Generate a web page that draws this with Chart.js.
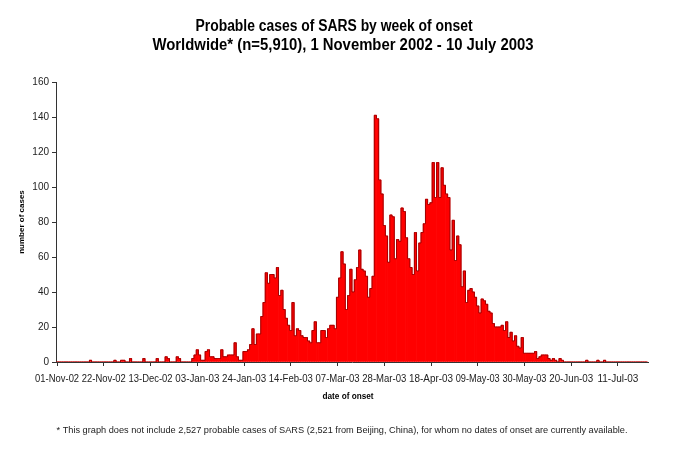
<!DOCTYPE html>
<html>
<head>
<meta charset="utf-8">
<title>Probable cases of SARS by week of onset</title>
<script src="https://cdn.jsdelivr.net/npm/chart.js@4.4.1/dist/chart.umd.min.js"></script>
<style>
  html, body { margin: 0; padding: 0; background: #fff; }
  #wrap { width: 676px; height: 451px; position: relative; }
</style>
</head>
<body>
<div id="wrap"><canvas id="sarsChart"></canvas></div>
<script>
// Data: daily probable cases, 1 Nov 2002 onwards
const startDay = new Date(2002, 10, 1);
const dayCount = 266;
const cases = [
  0,0,0,0,0,0,0,0,0,0,
  0,0,0,0,0,1,0,0,0,0,
  0,0,0,0,0,0,1,0,0,1,
  1,0,0,2,0,0,0,0,0,2,
  0,0,0,0,0,2,0,0,0,3,
  2,0,0,0,3,2,0,0,0,0,
  0,2,4,7,4,1,1,6,7,3,
  3,2,2,2,7,3,3,4,4,4,
  11,3,1,1,6,6,7,10,19,10,
  16,16,26,34,51,45,50,50,48,54,
  38,41,30,25,21,18,34,15,19,18,
  15,14,14,12,11,18,23,11,11,18,
  18,14,19,21,21,19,37,48,63,56,
  30,38,53,40,47,54,64,53,52,49,
  37,42,49,141,139,104,96,78,72,57,
  84,83,59,70,69,88,86,71,59,54,
  50,74,52,68,74,79,93,90,91,114,
  94,114,94,111,101,96,94,64,81,58,
  72,67,43,52,34,41,42,40,37,32,
  28,36,35,33,29,28,22,20,20,20,
  21,18,23,14,17,12,15,9,8,14,
  5,5,5,5,5,6,2,3,4,4,
  4,2,1,2,1,0,2,1,0,0,
  0,0,0,0,0,0,0,0,1,0,
  0,0,0,1,0,0,1,0,0,0,
  0,0,0,0,0,0,0,0,0,0,
  0,0,0,0,0,0
];
const tickLabels = ['01-Nov-02','22-Nov-02','13-Dec-02','03-Jan-03','24-Jan-03','14-Feb-03',
  '07-Mar-03','28-Mar-03','18-Apr-03','09-May-03','30-May-03','20-Jun-03','11-Jul-03'];
const tickEvery = 21;

const titleLines = ['Probable cases of SARS by week of onset',
  'Worldwide* (n=5,910), 1 November 2002 - 10 July 2003'];
const xTitle = 'date of onset';
const yTitle = 'number of cases';
const footnote = '* This graph does not include 2,527 probable cases of SARS (2,521 from Beijing, China), for whom no dates of onset are currently available.';

const FONT = "'Liberation Sans', Arial, sans-serif";

// one category per day
const months = ['Jan','Feb','Mar','Apr','May','Jun','Jul','Aug','Sep','Oct','Nov','Dec'];
const days = [];
for (let i = 0; i < dayCount; i++) {
  const d = new Date(startDay.getFullYear(), startDay.getMonth(), startDay.getDate() + i);
  days.push(String(d.getDate()).padStart(2,'0') + '-' + months[d.getMonth()] + '-' + String(d.getFullYear()).slice(2));
}

// the original text is narrow, so the labels are drawn here with a max width
const headings = {
  id: 'headings',
  afterDraw(chart){
    const c = chart.ctx;
    const xs = chart.scales.x;
    c.save();
    c.textAlign = 'center';
    c.textBaseline = 'middle';
    c.fillStyle = '#000';
    c.font = 'bold 16px ' + FONT;
    c.fillText(titleLines[0], 334, 27, 277);
    c.fillText(titleLines[1], 343, 46, 381);

    c.fillStyle = '#222';
    c.font = '10px ' + FONT;
    tickLabels.forEach((t, k) => {
      c.fillText(t, xs.getPixelForValue(k * tickEvery), 379, 44);
    });

    c.fillStyle = '#000';
    c.font = 'bold 9px ' + FONT;
    c.fillText(xTitle, 348, 397, 51);

    c.fillStyle = '#222';
    c.font = '9.5px ' + FONT;
    c.fillText(footnote, 342, 430, 571);
    c.restore();
  }
};

new Chart(document.getElementById('sarsChart'), {
  data: {
    labels: days,
    datasets: [
      {
        type: 'line',
        data: cases,
        stepped: 'middle',
        borderColor: '#a00000',
        borderWidth: 1,
        pointRadius: 0,
        fill: false,
        order: 0
      },
      {
        type: 'bar',
        data: cases,
        backgroundColor: '#ff0000',
        borderWidth: 0,
        barPercentage: 1,
        categoryPercentage: 1,
        order: 1
      }
    ]
  },
  options: {
    responsive: true,
    maintainAspectRatio: false,
    animation: false,
    layout: { padding: { top: 82, right: 28, bottom: 45, left: 0 } },
    plugins: { legend: { display: false }, tooltip: { enabled: false }, title: { display: false } },
    scales: {
      x: {
        type: 'category',
        offset: true,
        grid: { offset: false, drawOnChartArea: false, drawTicks: true, tickLength: 4, color: '#333' },
        border: { display: true, color: '#333', width: 1 },
        ticks: {
          autoSkip: false, maxRotation: 0, minRotation: 0, padding: 2,
          color: 'rgba(0,0,0,0)', font: { family: FONT, size: 10 },
          callback: (v, i) => (i % tickEvery === 0 ? tickLabels[i / tickEvery] : null)
        },
        title: { display: false },
        afterFit: s => { s.height = 44; }
      },
      y: {
        min: 0, max: 160,
        grid: { drawOnChartArea: false, drawTicks: true, tickLength: 4, color: '#333' },
        border: { display: true, color: '#333', width: 1 },
        ticks: { stepSize: 20, padding: 3, color: '#222', font: { family: FONT, size: 10 } },
        title: { display: true, text: yTitle, color: '#000',
          font: { family: FONT, size: 8, weight: 'bold' }, padding: { top: 17, bottom: 0 } },
        afterFit: s => { s.width = 56; }
      }
    }
  },
  plugins: [headings]
});
</script>
</body>
</html>
